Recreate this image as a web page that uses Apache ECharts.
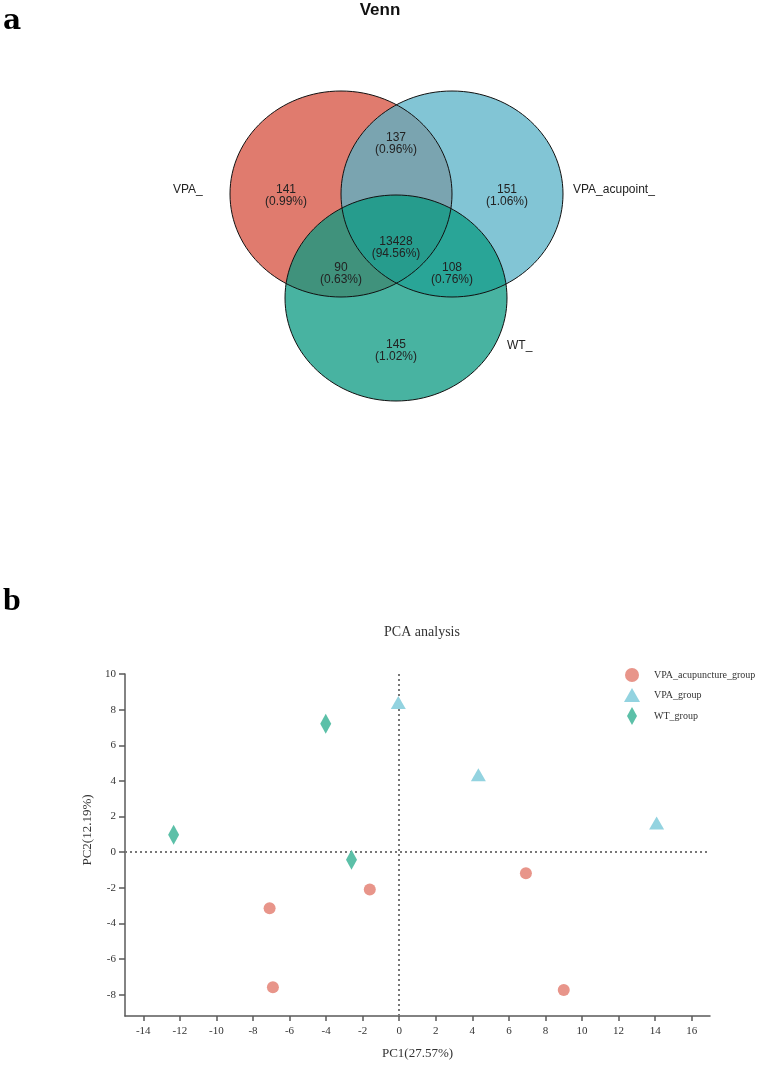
<!DOCTYPE html>
<html>
<head>
<meta charset="utf-8">
<script src="https://cdn.jsdelivr.net/npm/echarts@6/dist/echarts.min.js"></script>
<style>html,body{margin:0;padding:0;background:#fff}#c{width:762px;height:1065px}</style>
</head>
<body>
<div id="c"></div>
<script>
// ---------- DATA ----------
const vennSetNames = ['VPA_', 'VPA_acupoint_', 'WT_'];
const vennRegionNames = ['VPA only', 'VPA_acupoint only', 'WT only', 'VPA & VPA_acupoint', 'VPA & WT', 'VPA_acupoint & WT', 'All three'];
const vennRegionCounts = [141, 151, 145, 137, 90, 108, 13428];
const vennRegionPercents = ['0.99%', '1.06%', '1.02%', '0.96%', '0.63%', '0.76%', '94.56%'];

const pcaGroups = ['VPA_acupuncture_group', 'VPA_group', 'WT_group'];
const pcaAcupunctureX = [-7.09, -6.91, -1.61, 6.93, 9.0];
const pcaAcupunctureY = [-3.15, -7.58, -2.10, -1.18, -7.74];
const pcaVpaX = [-0.05, 4.33, 14.08];
const pcaVpaY = [8.40, 4.34, 1.63];
const pcaWtX = [-12.34, -4.02, -2.61];
const pcaWtY = [0.97, 7.21, -0.43];
const xTicks = [-14, -12, -10, -8, -6, -4, -2, 0, 2, 4, 6, 8, 10, 12, 14, 16];
const yTicks = [-8, -6, -4, -2, 0, 2, 4, 6, 8, 10];
const xAxisName = 'PC1(27.57%)';
const yAxisName = 'PC2(12.19%)';

// ---------- STYLE / LAYOUT ----------
const SANS = '"Liberation Sans", Arial, sans-serif';
const SERIF = '"Liberation Serif", "Times New Roman", serif';
const vennCenters = [[341, 194], [452, 194], [396, 298]];
const vennRx = 111, vennRy = 103;
const vennFills = ['rgba(214,79,62,0.75)', 'rgba(88,178,199,0.75)', 'rgba(11,154,130,0.75)'];
const vennLabelPos = [[286, 196], [507, 196], [396, 351], [396, 144], [341, 274], [452, 274], [396, 248]];
const vennNamePos = [[173, 190], [573, 190], [507, 346]];
const pcaSymbols = ['circle', 'triangle', 'diamond'];
const pcaSymbolSizes = [12, [15, 13], [11, 20]];
const pcaColors = ['#E8958A', '#93D3E0', '#5CC0A8'];
const legendIcons = [
  'path://M0,0L0,0M16,16L16,16M1,8A7,7,0,1,1,15,8A7,7,0,1,1,1,8Z',
  'path://M8,0L16,14L0,14Z',
  'path://M5,0L10,9L5,18L0,9Z'
];
const axisColor = '#5a5a5a';

const zip = (xs, ys) => xs.map((x, i) => [x, ys[i]]);
const pcaData = [zip(pcaAcupunctureX, pcaAcupunctureY), zip(pcaVpaX, pcaVpaY), zip(pcaWtX, pcaWtY)];

const graphics = [];
vennCenters.forEach((c, i) => graphics.push({
  type: 'ellipse', z: 1, silent: true,
  shape: {cx: c[0], cy: c[1], rx: vennRx, ry: vennRy},
  style: {fill: vennFills[i]}
}));
vennCenters.forEach((c, i) => graphics.push({
  type: 'ellipse', z: 2, silent: true,
  shape: {cx: c[0], cy: c[1], rx: vennRx, ry: vennRy},
  style: {fill: 'none', stroke: '#111', lineWidth: 1}
}));
vennRegionCounts.forEach((n, i) => graphics.push({
  type: 'text', z: 3, silent: true,
  x: vennLabelPos[i][0], y: vennLabelPos[i][1],
  style: {text: n + '\n(' + vennRegionPercents[i] + ')', font: '12px ' + SANS, fill: '#222',
          align: 'center', verticalAlign: 'middle', lineHeight: 12}
}));
vennSetNames.forEach((n, i) => graphics.push({
  type: 'text', z: 3, silent: true,
  x: vennNamePos[i][0], y: vennNamePos[i][1],
  style: {text: n, font: '12px ' + SANS, fill: '#222', align: 'left', verticalAlign: 'middle'}
}));
graphics.push({type: 'text', x: 3, y: 22, silent: true,
  style: {text: 'a', font: 'bold 28px "DejaVu Serif", serif', fill: '#000', align: 'left', verticalAlign: 'middle'}});
graphics.push({type: 'text', x: 3, y: 602, silent: true,
  style: {text: 'b', font: 'bold 32px ' + SERIF, fill: '#000', align: 'left', verticalAlign: 'middle'}});

const chart = echarts.init(document.getElementById('c'), null, {renderer: 'canvas', width: 762, height: 1065});
chart.setOption({
  animation: false,
  backgroundColor: '#fff',
  title: [
    {text: 'Venn', left: 380, top: 2, textAlign: 'center', padding: 0,
     textStyle: {fontFamily: SANS, fontSize: 17, fontWeight: 'bold', color: '#111'}},
    {text: 'PCA analysis', left: 422, top: 625, textAlign: 'center', padding: 0,
     textStyle: {fontFamily: SERIF, fontSize: 14, fontWeight: 'normal', color: '#333'}}
  ],
  legend: {
    orient: 'vertical', left: 624, top: 667, padding: 0,
    itemWidth: 16, itemHeight: 18, itemGap: 5,
    textStyle: {fontFamily: SERIF, fontSize: 10, color: '#333', padding: [0, 0, 0, 9]},
    data: pcaGroups.map((n, i) => ({name: n, icon: legendIcons[i]}))
  },
  grid: {left: 125, top: 674, width: 585, height: 342, outerBoundsMode: 'none'},
  xAxis: {
    type: 'value', min: -15, max: 17,
    name: xAxisName, nameLocation: 'middle', nameGap: 31,
    nameTextStyle: {fontFamily: SERIF, fontSize: 13, color: '#333'},
    axisLine: {onZero: false, lineStyle: {color: axisColor, width: 1.5}},
    axisTick: {show: true, length: 5, customValues: xTicks, lineStyle: {color: axisColor, width: 1.5}},
    axisLabel: {customValues: xTicks, margin: 10, fontFamily: SERIF, fontSize: 11, color: '#333'},
    splitLine: {show: false}
  },
  yAxis: {
    type: 'value', min: -9.2, max: 10,
    name: yAxisName, nameLocation: 'middle', nameGap: 30,
    nameTextStyle: {fontFamily: SERIF, fontSize: 13, color: '#333', padding: [0, 0, 0, 30]},
    axisLine: {onZero: false, lineStyle: {color: axisColor, width: 1.5}},
    axisTick: {show: true, length: 6, customValues: yTicks, lineStyle: {color: axisColor, width: 1.5}},
    axisLabel: {customValues: yTicks, margin: 9, fontFamily: SERIF, fontSize: 11, color: '#333'},
    splitLine: {show: false}
  },
  series: pcaGroups.map((g, i) => ({
    name: g, type: 'scatter', z: 3,
    symbol: pcaSymbols[i], symbolSize: pcaSymbolSizes[i],
    itemStyle: {color: pcaColors[i], opacity: 1},
    data: pcaData[i],
    markLine: i === 0 ? {
      silent: true, symbol: 'none', z: 1,
      label: {show: false},
      lineStyle: {type: [2, 3], color: '#777', width: 2},
      data: [{xAxis: 0}, {yAxis: 0}]
    } : undefined
  })),
  graphic: graphics
});
</script>
</body>
</html>
